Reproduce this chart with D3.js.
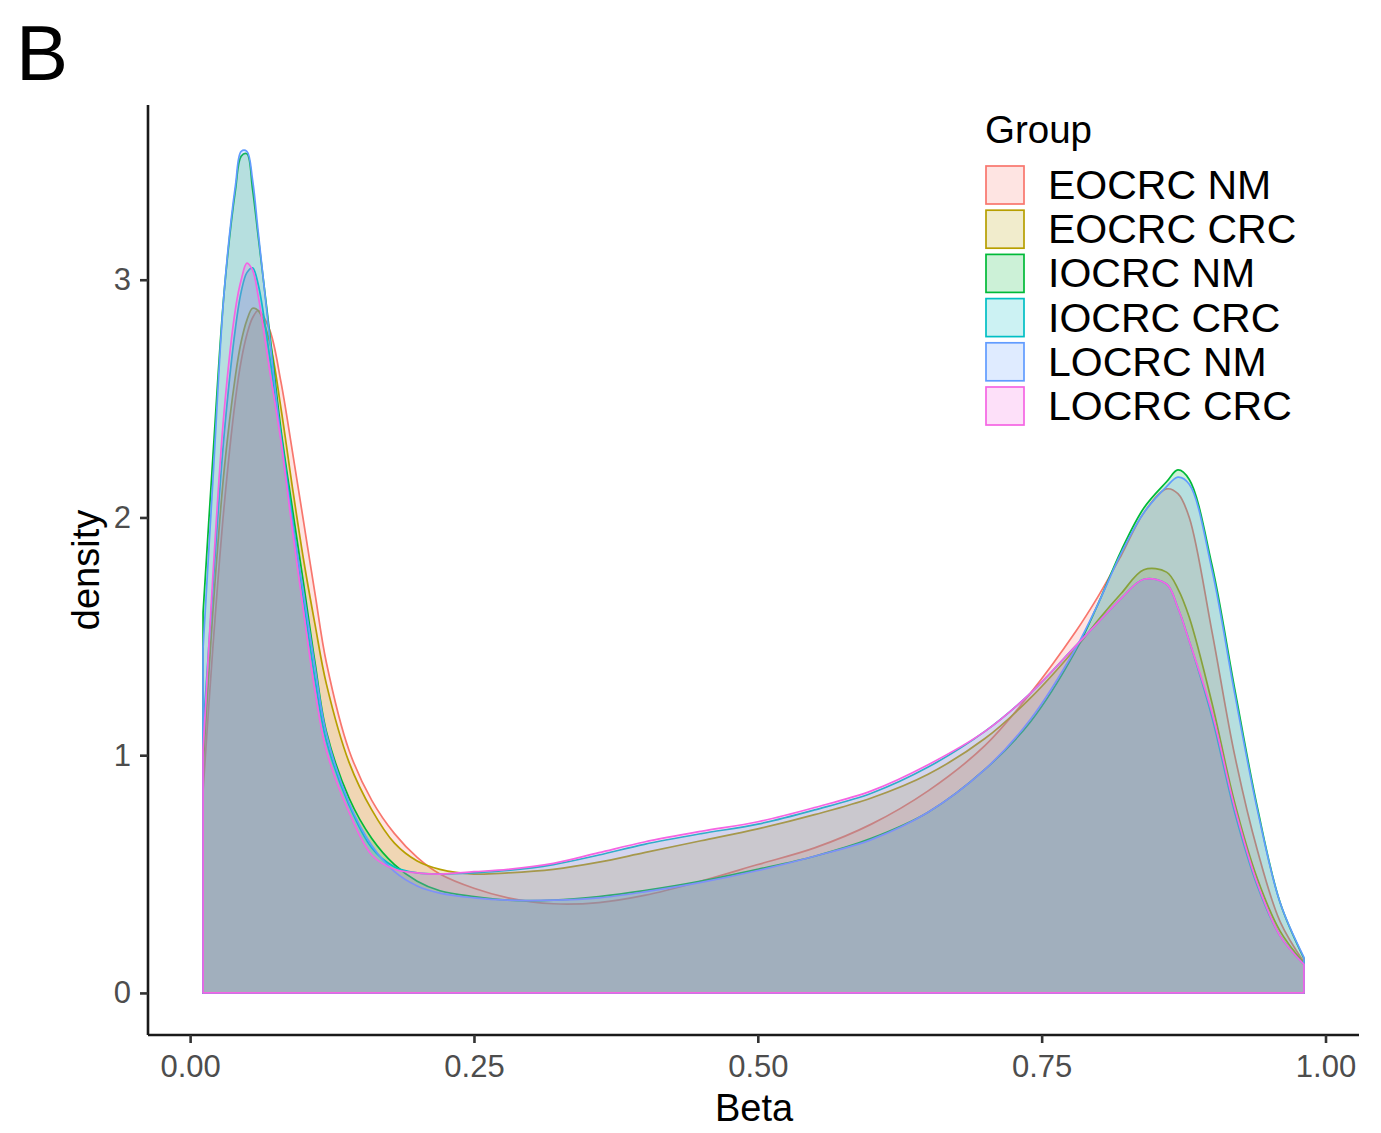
<!DOCTYPE html>
<html>
<head>
<meta charset="utf-8">
<script src="https://cdn.jsdelivr.net/npm/d3@7"></script>
<style>
  body { margin: 0; background: #fff; }
  text { font-family: "Liberation Sans", Arial, sans-serif; }
</style>
</head>
<body>
<main></main>
<script>
const betaGrid = [0.0114, 0.02, 0.03, 0.04, 0.045, 0.05, 0.055, 0.06, 0.07, 0.08, 0.09, 0.10, 0.11, 0.12,
    0.14, 0.16, 0.18, 0.20, 0.22, 0.25, 0.28, 0.32, 0.36, 0.40, 0.45, 0.50, 0.55, 0.60, 0.65, 0.70,
    0.74, 0.78, 0.80, 0.82, 0.84, 0.86, 0.87, 0.88, 0.90, 0.92, 0.94, 0.96, 0.981];

const groups = ["EOCRC NM", "EOCRC CRC", "IOCRC NM", "IOCRC CRC", "LOCRC NM", "LOCRC CRC"];
const groupColors = ["#F8766D", "#B79F00", "#00BA38", "#00BFC4", "#619CFF", "#F564E3"];

const eocrcNM = [0.85, 1.45, 2.05, 2.5, 2.66, 2.77, 2.84, 2.87, 2.79, 2.57, 2.28, 1.98, 1.68, 1.39,
    1.02, 0.81, 0.67, 0.57, 0.50, 0.44, 0.40, 0.375, 0.38, 0.41, 0.47, 0.54, 0.61, 0.71, 0.85, 1.04,
    1.26, 1.52, 1.67, 1.84, 2.02, 2.12, 2.10, 2.00, 1.52, 1.00, 0.60, 0.30, 0.13];
const eocrcCRC = [0.95, 1.6, 2.2, 2.6, 2.74, 2.83, 2.88, 2.87, 2.74, 2.46, 2.13, 1.82, 1.55, 1.30,
    0.97, 0.77, 0.63, 0.555, 0.52, 0.50, 0.505, 0.52, 0.55, 0.59, 0.64, 0.69, 0.75, 0.82, 0.92, 1.07,
    1.24, 1.45, 1.57, 1.68, 1.78, 1.77, 1.70, 1.58, 1.22, 0.80, 0.48, 0.26, 0.125];
const iocrcNM = [1.60, 2.25, 2.95, 3.38, 3.52, 3.53, 3.38, 3.18, 2.78, 2.37, 2.04, 1.72, 1.39, 1.10,
    0.82, 0.65, 0.54, 0.47, 0.43, 0.405, 0.39, 0.39, 0.405, 0.43, 0.47, 0.52, 0.575, 0.65, 0.76, 0.94,
    1.14, 1.44, 1.64, 1.86, 2.04, 2.15, 2.20, 2.16, 1.80, 1.28, 0.78, 0.38, 0.145];
const iocrcCRC = [1.10, 1.70, 2.35, 2.80, 2.95, 3.03, 3.05, 2.98, 2.68, 2.35, 2.0, 1.65, 1.32, 1.06,
    0.79, 0.61, 0.53, 0.505, 0.50, 0.505, 0.515, 0.54, 0.58, 0.625, 0.67, 0.71, 0.77, 0.84, 0.95, 1.10,
    1.26, 1.46, 1.56, 1.66, 1.74, 1.72, 1.62, 1.48, 1.16, 0.76, 0.45, 0.24, 0.12];
const locrcNM = [1.45, 2.15, 2.95, 3.40, 3.54, 3.54, 3.42, 3.20, 2.76, 2.33, 1.98, 1.68, 1.37, 1.09,
    0.80, 0.62, 0.51, 0.45, 0.42, 0.40, 0.39, 0.39, 0.40, 0.425, 0.465, 0.515, 0.575, 0.645, 0.76, 0.94,
    1.15, 1.45, 1.64, 1.85, 2.02, 2.13, 2.17, 2.14, 1.78, 1.26, 0.77, 0.38, 0.15];
const locrcCRC = [1.02, 1.75, 2.45, 2.88, 3.0, 3.07, 3.04, 2.93, 2.62, 2.32, 1.95, 1.60, 1.27, 1.02,
    0.76, 0.58, 0.52, 0.505, 0.50, 0.51, 0.52, 0.545, 0.59, 0.635, 0.68, 0.72, 0.78, 0.85, 0.96, 1.10,
    1.26, 1.46, 1.56, 1.66, 1.74, 1.72, 1.62, 1.48, 1.18, 0.78, 0.46, 0.24, 0.12];

const densities = [eocrcNM, eocrcCRC, iocrcNM, iocrcCRC, locrcNM, locrcCRC];

const xTicks = [0, 0.25, 0.5, 0.75, 1];
const yTicks = [0, 1, 2, 3];

const width = 1381;
const height = 1133;

const svg = d3.select("main")
    .append("svg")
    .attr("width", width)
    .attr("height", height);

svg.append("rect")
    .attr("width", width)
    .attr("height", height)
    .attr("fill", "#ffffff");

// scales (ggplot style 5% expansion around the data)
const x = d3.scaleLinear().domain([-0.0371, 1.0295]).range([148, 1359]);
const y = d3.scaleLinear().domain([-0.177, 3.735]).range([1035, 105]);

// density areas, drawn in legend order so LOCRC CRC ends on top
const area = d3.area()
    .x((d, i) => x(betaGrid[i]))
    .y0(y(0))
    .y1(d => y(d))
    .curve(d3.curveCatmullRom.alpha(0.5));

const plot = svg.append("g").attr("id", "densities");
densities.forEach((vals, k) => {
    plot.append("path")
        .attr("d", area(vals))
        .attr("fill", groupColors[k])
        .attr("fill-opacity", 0.2)
        .attr("stroke", groupColors[k])
        .attr("stroke-width", 1.7)
        .attr("stroke-linejoin", "round");
});

// axes
const xAxis = svg.append("g")
    .attr("transform", "translate(0," + 1035 + ")")
    .call(d3.axisBottom(x).tickValues(xTicks).tickFormat(d3.format(".2f")).tickSizeOuter(0).tickSize(8).tickPadding(12));
const yAxis = svg.append("g")
    .attr("transform", "translate(" + 148 + ",0)")
    .call(d3.axisLeft(y).tickValues(yTicks).tickFormat(d3.format("d")).tickSizeOuter(0).tickSize(8).tickPadding(9));

[xAxis, yAxis].forEach(g => {
    g.select(".domain").attr("stroke", "#1a1a1a").attr("stroke-width", 2.6);
    g.selectAll(".tick line").attr("stroke", "#333333").attr("stroke-width", 2.6);
    g.selectAll(".tick text")
        .attr("fill", "#4d4d4d")
        .style("font-size", "31px")
        .style("font-family", "'Liberation Sans', Arial, sans-serif");
});
xAxis.select(".domain").attr("d", "M148,0H1359");
yAxis.select(".domain").attr("d", "M0,105V1035");

// axis titles
svg.append("text")
    .attr("x", 754)
    .attr("y", 1121)
    .attr("text-anchor", "middle")
    .style("font-size", "38px")
    .text("Beta");

svg.append("text")
    .attr("transform", "translate(99,570) rotate(-90)")
    .attr("text-anchor", "middle")
    .style("font-size", "38px")
    .text("density");

// panel letter
svg.append("text")
    .attr("x", 16)
    .attr("y", 80)
    .style("font-size", "78px")
    .text("B");

// legend
const legend = svg.append("g").attr("transform", "translate(985,0)");
legend.append("text")
    .attr("x", 0)
    .attr("y", 143)
    .style("font-size", "38.5px")
    .text("Group");

groups.forEach((g, k) => {
    const cy = 185 + k * 44.2;
    legend.append("rect")
        .attr("x", 1)
        .attr("y", cy - 19)
        .attr("width", 38)
        .attr("height", 38)
        .attr("fill", groupColors[k])
        .attr("fill-opacity", 0.2)
        .attr("stroke", groupColors[k])
        .attr("stroke-width", 1.7);
    legend.append("text")
        .attr("x", 63)
        .attr("y", cy + 14)
        .style("font-size", "41px")
        .text(g);
});
</script>
</body>
</html>
